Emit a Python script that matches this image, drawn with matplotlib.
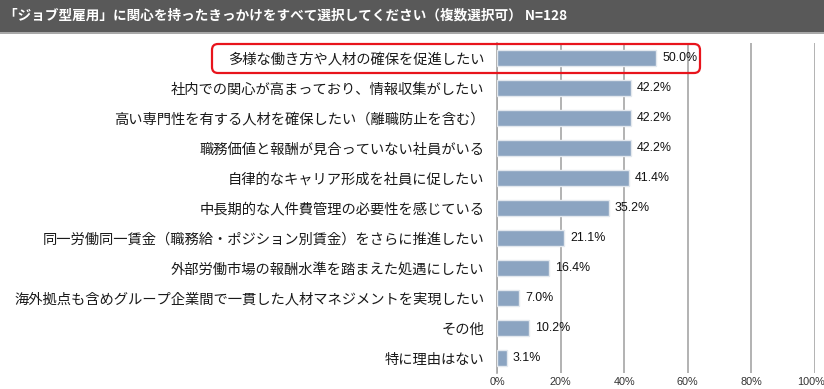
import matplotlib.pyplot as plt
from matplotlib.patches import Rectangle, FancyBboxPatch
from matplotlib.transforms import ScaledTranslation

plt.rcParams['font.family'] = ['Noto Sans CJK JP', 'DejaVu Sans']

title = '「ジョブ型雇用」に関心を持ったきっかけをすべて選択してください（複数選択可） N=128'
labels = [
    '多様な働き方や人材の確保を促進したい',
    '社内での関心が高まっており、情報収集がしたい',
    '高い専門性を有する人材を確保したい（離職防止を含む）',
    '職務価値と報酬が見合っていない社員がいる',
    '自律的なキャリア形成を社員に促したい',
    '中長期的な人件費管理の必要性を感じている',
    '同一労働同一賃金（職務給・ポジション別賃金）をさらに推進したい',
    '外部労働市場の報酬水準を踏まえた処遇にしたい',
    '海外拠点も含めグループ企業間で一貫した人材マネジメントを実現したい',
    'その他',
    '特に理由はない',
]
values = [50.0, 42.2, 42.2, 42.2, 41.4, 35.2, 21.1, 16.4, 7.0, 10.2, 3.1]
xticks = [0, 20, 40, 60, 80, 100]

W, H = 824, 389
fig = plt.figure(figsize=(W / 100, H / 100), dpi=100)
ax = fig.add_axes([497 / W, 1 - 373 / H, 318 / W, 330 / H])

ypos = list(range(len(labels)))
ax.barh(ypos, values, height=0.55, color='#8ba4c1', edgecolor='#e3e8ee', linewidth=1, zorder=3)
for y, v in zip(ypos, values):
    ax.text(v + 1.9, y, f'{v:.1f}%', va='center', ha='left', fontsize=8.9,
            family=['Liberation Sans'], color='#111111', zorder=4)

ax.set_xlim(0, 100)
ax.set_ylim(len(labels) - 0.5, -0.5)
ax.set_yticks(ypos)
ax.set_yticklabels(labels, fontsize=10.3, color='#1a1a1a')
ax.set_xticks(xticks)
ax.set_xticklabels([f'{t}%' for t in xticks], fontsize=7.8, family=['Liberation Sans'], color='#333333')
ax.tick_params(axis='both', length=0)
ax.tick_params(axis='y', pad=9)
ax.tick_params(axis='x', pad=3)
# keep the 100% label inside the picture
last = ax.get_xticklabels()[-1]
last.set_transform(last.get_transform() + ScaledTranslation(-0.04, 0, fig.dpi_scale_trans))
ax.grid(axis='x', color='#a6a6a6', linewidth=1.2, zorder=0)
for s in ['top', 'right', 'bottom']:
    ax.spines[s].set_visible(False)
ax.spines['left'].set_color('#a6a6a6')
ax.spines['left'].set_linewidth(1.2)

# title band
fig.patches.append(Rectangle((0, 1 - 32 / H), 1, 32 / H, transform=fig.transFigure,
                             facecolor='#595959', edgecolor='none', zorder=0))
fig.patches.append(Rectangle((0, 1 - 34 / H), 1, 2 / H, transform=fig.transFigure,
                             facecolor='#a8a8a8', edgecolor='none', zorder=0))
fig.text(4 / W, 1 - 16 / H, title, color='white', fontsize=9.8, fontweight='bold',
         va='center', ha='left')

# red highlight box
box = FancyBboxPatch((2.12, (H - 73) / 100), 4.88, 0.29,
                     boxstyle='round,pad=0,rounding_size=0.06',
                     transform=fig.dpi_scale_trans, facecolor='none',
                     edgecolor='#e8141c', linewidth=1.6, zorder=10)
fig.patches.append(box)

fig.savefig('out.png', dpi=100)
